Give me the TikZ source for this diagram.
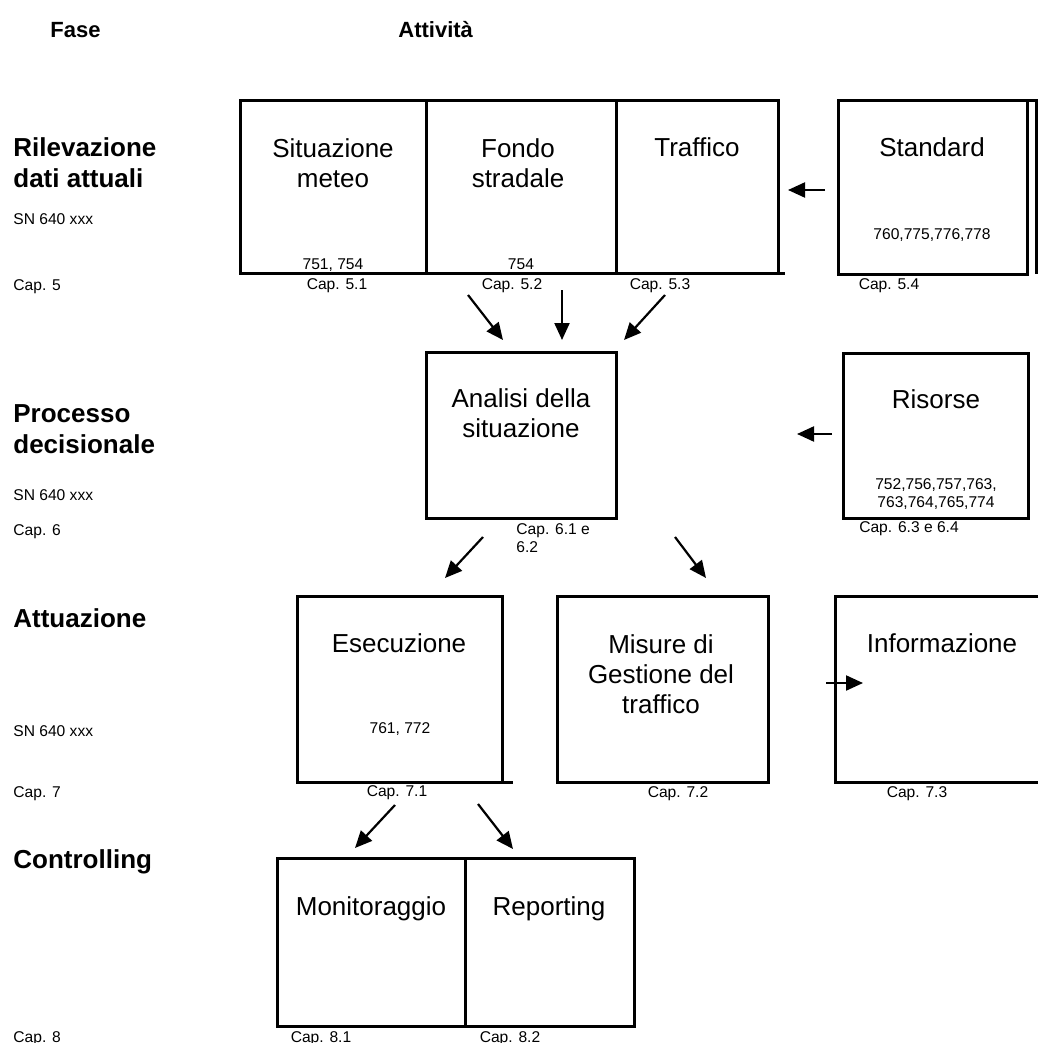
\documentclass[tikz,border=0pt]{standalone}
\usepackage{fontspec}
\setmainfont{Liberation Sans}
\usetikzlibrary{arrows.meta}

\tikzset{
  box/.style={line width=1.5pt},
  flow/.style={line width=1.1pt, -{Triangle[length=8.5pt,width=7.5pt]}},
  title/.style={font=\fontsize{13}{15}\selectfont, align=center, anchor=base, inner sep=0pt},
  ref/.style={font=\fontsize{7.8}{8.6}\selectfont, align=center, anchor=base, inner sep=0pt},
  phase/.style={font=\fontsize{13}{15.5}\selectfont\bfseries, align=left, anchor=base west, inner sep=0pt},
  note/.style={font=\fontsize{7.8}{8.6}\selectfont, align=left, anchor=base west, inner sep=0pt},
  head/.style={font=\fontsize{11}{13}\selectfont\bfseries, anchor=base west, inner sep=0pt},
}

\begin{document}
\begin{tikzpicture}[x=0.5pt, y=-0.5pt]
  \useasboundingbox (0,0) rectangle (1038,1043);

  % Column headings
  \node[head] (fase) at (50,38) {Fase};
  \node[head] (attivita) at (398,38) {Attività};

  % Phases (multi-line nodes sit on their last baseline)
  \node[phase] (rilev) at (13,188) {Rilevazione\\dati attuali};
  \node[note] (sn5) at (13,225) {SN 640 xxx};
  \node[note] (cap5) at (13,290) {Cap. 5};

  \node[phase] (proc) at (13,453) {Processo\\decisionale};
  \node[note] (sn6) at (13,500) {SN 640 xxx};
  \node[note] (cap6) at (13,535) {Cap. 6};

  \node[phase] (attu) at (13,627) {Attuazione};
  \node[note] (sn7) at (13,736) {SN 640 xxx};
  \node[note] (cap7) at (13,797) {Cap. 7};

  \node[phase] (contr) at (13,868) {Controlling};
  \node[note] (cap8) at (13,1042) {Cap. 8};

  % Row 1: data collection
  \draw[box] (240,101) rectangle (778,273);
  \draw[box] (426,101) -- (426,273);
  \draw[box] (616,101) -- (616,273);
  \draw[box] (778,273) -- (785,273);
  \node[title] (meteo) at (333,188) {Situazione\\meteo};
  \node[ref] (meteon) at (333,270) {751, 754};
  \node[ref] (cap51) at (337,289) {Cap. 5.1};
  \node[title] (fondo) at (518,188) {Fondo\\stradale};
  \node[ref] (fondon) at (521,270) {754};
  \node[ref] (cap52) at (512,289) {Cap. 5.2};
  \node[title] (traffico) at (697,157) {Traffico};
  \node[ref] (cap53) at (660,289) {Cap. 5.3};

  \draw[box] (838,101) rectangle (1027,274);
  \draw[box] (1027,101) -- (1038,101);
  \draw[box] (1036,101) -- (1036,274);
  \node[title] (standard) at (932,157) {Standard};
  \node[ref] (standardn) at (932,240) {760,775,776,778};
  \node[ref] (cap54) at (889,289) {Cap. 5.4};

  % Row 2: decision
  \draw[box] (426,352) rectangle (616,518);
  \node[title] (analisi) at (521,437) {Analisi della\\situazione};
  \node[note] (cap61) at (516,552) {Cap. 6.1 e\\6.2};

  \draw[box] (843,353) rectangle (1028,518);
  \node[title] (risorse) at (936,408) {Risorse};
  \node[ref] (risorsen) at (936,507) {752,756,757,763,\\763,764,765,774};
  \node[ref] (cap63) at (909,532) {Cap. 6.3 e 6.4};

  % Row 3: execution
  \draw[box] (297,596) rectangle (502,782);
  \draw[box] (502,782) -- (513,782);
  \node[title] (esec) at (399,652) {Esecuzione};
  \node[ref] (esecn) at (400,733) {761, 772};
  \node[ref] (cap71) at (397,796) {Cap. 7.1};

  \draw[box] (557,596) rectangle (768,782);
  \node[title] (misure) at (661,713) {Misure di\\Gestione del\\traffico};
  \node[ref] (cap72) at (678,797) {Cap. 7.2};

  \draw[box] (1038,596) -- (835,596) -- (835,782) -- (1038,782);
  \node[title] (info) at (942,652) {Informazione};
  \node[ref] (cap73) at (917,797) {Cap. 7.3};

  % Row 4: controlling
  \draw[box] (277,858) rectangle (634,1026);
  \draw[box] (465,858) -- (465,1026);
  \node[title] (monit) at (371,915) {Monitoraggio};
  \node[ref] (cap81) at (321,1042) {Cap. 8.1};
  \node[title] (report) at (549,915) {Reporting};
  \node[ref] (cap82) at (510,1042) {Cap. 8.2};

  % Arrow ends
  \coordinate (m1) at (468,295);  \coordinate (m2) at (503,340);
  \coordinate (f1) at (562,290);  \coordinate (f2) at (562,340);
  \coordinate (t1) at (665,295);  \coordinate (t2) at (624,340);
  \coordinate (s1) at (825,190);  \coordinate (s2) at (788,190);
  \coordinate (r1) at (832,434);  \coordinate (r2) at (797,434);
  \coordinate (a1) at (483,537);  \coordinate (a2) at (445,578);
  \coordinate (b1) at (675,537);  \coordinate (b2) at (706,578);
  \coordinate (i1) at (826,683);  \coordinate (i2) at (863,683);
  \coordinate (e1) at (395,805);  \coordinate (e2) at (355,848);
  \coordinate (g1) at (478,804);  \coordinate (g2) at (513,849);

  % Arrows
  \draw[flow] (m1) -- (m2);
  \draw[flow] (f1) -- (f2);
  \draw[flow] (t1) -- (t2);
  \draw[flow] (s1) -- (s2);
  \draw[flow] (r1) -- (r2);
  \draw[flow] (a1) -- (a2);
  \draw[flow] (b1) -- (b2);
  \draw[flow] (i1) -- (i2);
  \draw[flow] (e1) -- (e2);
  \draw[flow] (g1) -- (g2);
\end{tikzpicture}
\end{document}
